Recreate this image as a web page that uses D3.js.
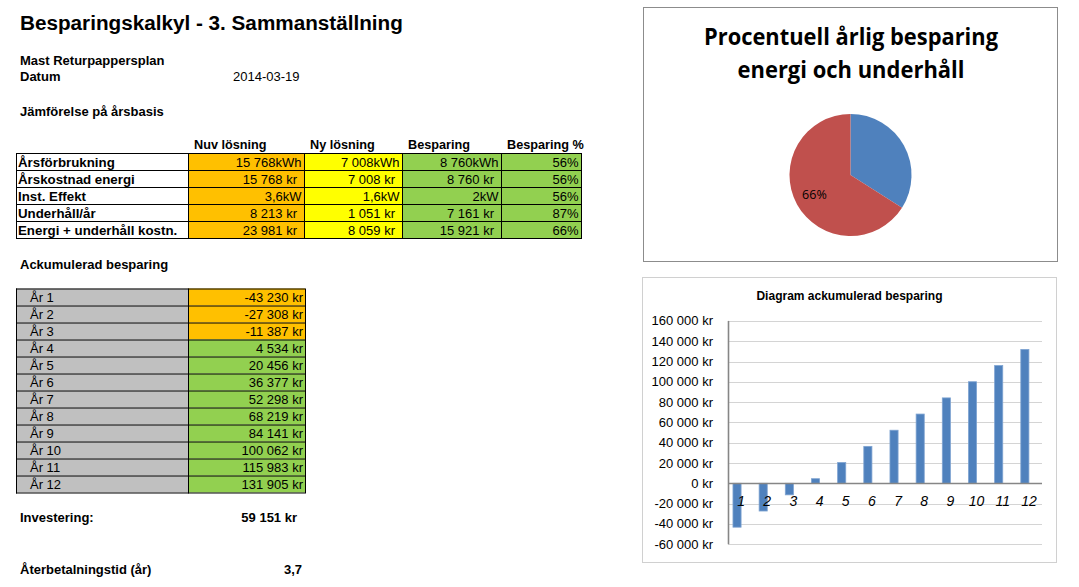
<!DOCTYPE html>
<html><head><meta charset="utf-8">
<script src="https://cdn.jsdelivr.net/npm/d3@7"></script>
<style>
body{margin:0;background:#fff}
svg{display:block}
text{font-family:"Liberation Sans",Arial,sans-serif;fill:#000}
</style>
</head><body>
<svg id="c" width="1079" height="587"></svg>
<script>
// ---------- data ----------
const pageTitle = "Besparingskalkyl - 3. Sammanställning";
const projectName = "Mast Returpappersplan";
const dateLabel = "Datum";
const dateValue = "2014-03-19";
const compHeading = "Jämförelse på årsbasis";
const compColumns = ["Nuv lösning", "Ny lösning", "Besparing", "Besparing %"];
const compRows = ["Årsförbrukning", "Årskostnad energi", "Inst. Effekt", "Underhåll/år", "Energi + underhåll kostn."];
const compUnits = ["kWh", "kr", "kW", "kr", "kr"];
const nuvValues = [15768, 15768, 3.6, 8213, 23981];
const nyValues = [7008, 7008, 1.6, 1051, 8059];
const savingValues = [8760, 8760, 2, 7161, 15921];
const savingPct = [56, 56, 56, 87, 66];
const accHeading = "Ackumulerad besparing";
const years = [1, 2, 3, 4, 5, 6, 7, 8, 9, 10, 11, 12];
const accValues = [-43230, -27308, -11387, 4534, 20456, 36377, 52298, 68219, 84141, 100062, 115983, 131905];
const investLabel = "Investering:";
const investValue = 59151;
const paybackLabel = "Återbetalningstid (år)";
const paybackValue = 3.7;
const pieTitle = ["Procentuell årlig besparing", "energi och underhåll"];
const pieNames = ["Kvarstående", "Besparing"];
const pieValues = [34, 66];
const barTitle = "Diagram ackumulerad besparing";
const yTicks = [-60000, -40000, -20000, 0, 20000, 40000, 60000, 80000, 100000, 120000, 140000, 160000];

// ---------- helpers ----------
const sv = d3.formatLocale({decimal: ",", thousands: " ", grouping: [3], currency: ["", " kr"], minus: "-"});
const fInt = sv.format(",d");
const fNum = sv.format(",");
function fmtVal(v, u) {
  if (u === "kr") return fInt(v) + " kr";
  if (u === "kWh") return fInt(v) + "kWh";
  return fNum(v) + u;
}
const svg = d3.select("#c");
svg.append("rect").attr("width", 1079).attr("height", 587).attr("fill", "#fff");

// ---------- left texts ----------
svg.append("text").attr("x", 20).attr("y", 30).attr("font-size", 20.7).attr("font-weight", "bold").text(pageTitle);
svg.append("text").attr("x", 20).attr("y", 65).attr("font-size", 13).attr("font-weight", "bold").text(projectName);
svg.append("text").attr("x", 20).attr("y", 81).attr("font-size", 13).attr("font-weight", "bold").text(dateLabel);
svg.append("text").attr("x", 233).attr("y", 81).attr("font-size", 13).text(dateValue);
svg.append("text").attr("x", 20).attr("y", 116).attr("font-size", 13).attr("font-weight", "bold").text(compHeading);

// ---------- comparison table ----------
const colEdges = [16, 188, 304, 402, 501, 581];
const tTop = 153, rowH = 17;
const colFills = ["#ffc000", "#ffff00", "#92d050", "#92d050"];
const colData = [nuvValues, nyValues, savingValues, savingPct];
const rowY = d3.scaleBand().domain(d3.range(compRows.length)).range([tTop, tTop + rowH * compRows.length]);

const ct = svg.append("g");
compColumns.forEach((c, i) => {
  ct.append("text").attr("x", colEdges[i + 1] + 6).attr("y", tTop - 4).attr("font-size", 12.7).attr("font-weight", "bold").text(c);
});
compRows.forEach((r, ri) => {
  const y = rowY(ri);
  colFills.forEach((f, ci) => {
    ct.append("rect").attr("x", colEdges[ci + 1]).attr("y", y).attr("width", colEdges[ci + 2] - colEdges[ci + 1]).attr("height", rowH).attr("fill", f);
  });
  ct.append("text").attr("x", 18).attr("y", y + rowH / 2 + 5).attr("font-size", 13.3).attr("font-weight", "bold").text(r);
  colData.forEach((arr, ci) => {
    const isPct = ci === 3;
    const txt = isPct ? arr[ri] + "%" : fmtVal(arr[ri], compUnits[ri]);
    const pad = (!isPct && compUnits[ri] === "kr") ? 7 : 2.5;
    ct.append("text").attr("x", colEdges[ci + 2] - pad).attr("y", y + rowH / 2 + 5)
      .attr("text-anchor", "end").attr("font-size", 13).text(txt);
  });
});
// grid
d3.range(compRows.length + 1).forEach(i => {
  ct.append("line").attr("x1", colEdges[0]).attr("x2", colEdges[5]).attr("y1", tTop + i * rowH + 0.5).attr("y2", tTop + i * rowH + 0.5).attr("stroke", "#000");
});
colEdges.forEach(x => {
  ct.append("line").attr("x1", x + 0.5).attr("x2", x + 0.5).attr("y1", tTop).attr("y2", tTop + rowH * compRows.length + 1).attr("stroke", "#000");
});

// ---------- accumulated table ----------
svg.append("text").attr("x", 20).attr("y", 269).attr("font-size", 13).attr("font-weight", "bold").text(accHeading);
const aTop = 288.5, aEdges = [16, 188, 305];
const at = svg.append("g");
years.forEach((yr, i) => {
  const y = aTop + i * rowH;
  at.append("rect").attr("x", aEdges[0]).attr("y", y).attr("width", aEdges[1] - aEdges[0]).attr("height", rowH).attr("fill", "#c0c0c0");
  at.append("rect").attr("x", aEdges[1]).attr("y", y).attr("width", aEdges[2] - aEdges[1]).attr("height", rowH).attr("fill", accValues[i] < 0 ? "#ffc000" : "#92d050");
  at.append("text").attr("x", 30).attr("y", y + rowH / 2 + 5).attr("font-size", 13).text("År " + yr);
  at.append("text").attr("x", aEdges[2] - 2).attr("y", y + rowH / 2 + 5).attr("text-anchor", "end").attr("font-size", 13).text(fInt(accValues[i]) + " kr");
});
d3.range(years.length + 1).forEach(i => {
  at.append("line").attr("x1", aEdges[0]).attr("x2", aEdges[2]).attr("y1", aTop + i * rowH + 0.5).attr("y2", aTop + i * rowH + 0.5).attr("stroke", "#000");
});
aEdges.forEach(x => {
  at.append("line").attr("x1", x + 0.5).attr("x2", x + 0.5).attr("y1", aTop).attr("y2", aTop + rowH * years.length + 1).attr("stroke", "#000");
});

svg.append("text").attr("x", 20).attr("y", 522).attr("font-size", 13).attr("font-weight", "bold").text(investLabel);
svg.append("text").attr("x", 297).attr("y", 522).attr("text-anchor", "end").attr("font-size", 13).attr("font-weight", "bold").text(fInt(investValue) + " kr");
svg.append("text").attr("x", 20).attr("y", 574).attr("font-size", 13).attr("font-weight", "bold").text(paybackLabel);
svg.append("text").attr("x", 302).attr("y", 574).attr("text-anchor", "end").attr("font-size", 13).attr("font-weight", "bold").text(fNum(paybackValue));

// ---------- pie chart ----------
svg.append("rect").attr("x", 643.5).attr("y", 7.5).attr("width", 414).attr("height", 254).attr("fill", "#fff").attr("stroke", "#8c8c8c");
pieTitle.forEach((t, i) => {
  svg.append("text").attr("x", 851).attr("y", 45 + i * 33).attr("text-anchor", "middle")
    .attr("font-weight", "bold").attr("font-size", 22.5)
    .attr("textLength", i === 0 ? 294 : 227).attr("lengthAdjust", "spacingAndGlyphs")
    .style("font-family", "'Open Sans', sans-serif").text(t);
});
const pieR = 61;
const pg = svg.append("g").attr("transform", "translate(850.5,175)");
const pie = d3.pie().sort(null).value(d => d)(pieValues);
const arc = d3.arc().innerRadius(0).outerRadius(pieR);
const pieColors = ["#4f81bd", "#c0504d"];
pg.selectAll("path").data(pie).join("path").attr("d", arc).attr("fill", (d, i) => pieColors[i]);
const labelArc = d3.arc().innerRadius(pieR * 0.35).outerRadius(pieR);
const big = pie[1];
const c = labelArc.centroid(big);
pg.append("text").attr("x", c[0]).attr("y", c[1] + 4.5).attr("text-anchor", "middle")
  .style("font-family", "'Open Sans', sans-serif").attr("font-size", 12.5).text(pieValues[1] + "%");

// ---------- bar chart ----------
svg.append("rect").attr("x", 642.5).attr("y", 277.5).attr("width", 414).attr("height", 285).attr("fill", "#fff").attr("stroke", "#d0d0d0");
svg.append("text").attr("x", 849.5).attr("y", 300).attr("text-anchor", "middle").attr("font-size", 12).attr("font-weight", "bold").text(barTitle);

const x = d3.scaleBand().domain(years).range([728, 1042]);
const y = d3.scaleLinear().domain([d3.min(yTicks), d3.max(yTicks)]).range([544.2, 320.9]);
const bg = svg.append("g");
bg.selectAll("line.grid").data(yTicks).join("line").attr("class", "grid")
  .attr("x1", 728).attr("x2", 1042).attr("y1", d => Math.round(y(d)) + 0.5).attr("y2", d => Math.round(y(d)) + 0.5)
  .attr("stroke", "#d4d4d4").attr("stroke-width", 1.2);
bg.selectAll("text.yl").data(yTicks).join("text").attr("class", "yl")
  .attr("x", 713).attr("y", d => y(d) + 4.5).attr("text-anchor", "end").attr("font-size", 13)
  .text(d => fInt(d) + " kr");
const bw = x.bandwidth();
bg.selectAll("rect.bar").data(years).join("rect").attr("class", "bar")
  .attr("x", d => x(d) + bw * 0.5 - bw * 0.31)
  .attr("width", bw * 0.31)
  .attr("y", (d, i) => y(Math.max(0, accValues[i])))
  .attr("height", (d, i) => Math.abs(y(accValues[i]) - y(0)))
  .attr("fill", "#4f81bd").attr("stroke", "#7ea3d1").attr("stroke-width", 0.8);
// axes lines
bg.append("line").attr("x1", 728).attr("x2", 1042).attr("y1", Math.round(y(0)) + 0.5).attr("y2", Math.round(y(0)) + 0.5).attr("stroke", "#868686").attr("stroke-width", 1.3);
bg.append("line").attr("x1", 728.5).attr("x2", 728.5).attr("y1", y(d3.max(yTicks))).attr("y2", y(d3.min(yTicks))).attr("stroke", "#868686").attr("stroke-width", 1.6);
bg.selectAll("text.xl").data(years).join("text").attr("class", "xl")
  .attr("x", d => x(d) + bw / 2).attr("y", 506).attr("text-anchor", "middle")
  .attr("font-size", 14).attr("font-style", "italic").text(d => d);
</script>
</body></html>
